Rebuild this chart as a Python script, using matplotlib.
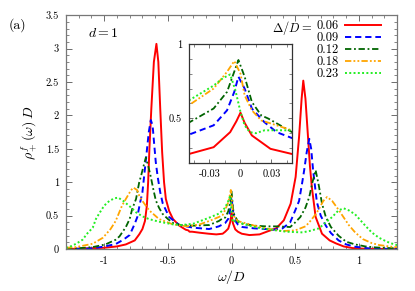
import numpy as np
import matplotlib
matplotlib.use('Agg')
import matplotlib.pyplot as plt
from matplotlib.ticker import MultipleLocator

plt.rcParams['font.family'] = 'cmr10'
plt.rcParams['mathtext.fontset'] = 'cm'
plt.rcParams['axes.unicode_minus'] = False
plt.rcParams['axes.formatter.use_mathtext'] = False

# --- data: omega/D and rho_+^f(omega) D ---
w_006 = [-1.30, -1.00, -0.90, -0.83, -0.76, -0.725, -0.70, -0.68, -0.665, -0.655, -0.645, -0.63,
         -0.61, -0.59, -0.575, -0.56, -0.545, -0.53, -0.516, -0.49, -0.46, -0.41, -0.36, -0.34,
         -0.33, -0.31, -0.25, -0.18, -0.12, -0.07, -0.05, -0.026, -0.01, -0.004, 0.0, 0.004,
         0.011, 0.029, 0.05, 0.08, 0.14, 0.22, 0.29, 0.35, 0.41, 0.464, 0.503, 0.53, 0.55,
         0.563, 0.58, 0.60, 0.615, 0.63, 0.66, 0.71, 0.77, 0.82, 0.88, 0.95, 1.05, 1.30]
r_006 = [0.0, 0.02, 0.04, 0.07, 0.13, 0.22, 0.30, 0.42, 0.65, 1.00, 1.50, 2.10,
         2.80, 3.07, 2.80, 2.10, 1.45, 1.00, 0.75, 0.57, 0.45, 0.35, 0.29, 0.28,
         0.26, 0.26, 0.245, 0.23, 0.22, 0.23, 0.26, 0.306, 0.407, 0.48, 0.538, 0.47,
         0.385, 0.295, 0.26, 0.23, 0.21, 0.22, 0.27, 0.31, 0.43, 0.68, 1.08, 1.68, 2.25,
         2.52, 2.25, 1.68, 1.25, 0.93, 0.48, 0.23, 0.13, 0.085, 0.04, 0.015, 0.005, 0.0]

w_009 = [-1.30, -1.10, -1.01, -0.91, -0.85, -0.80, -0.76, -0.74, -0.72, -0.70, -0.673, -0.65,
         -0.634, -0.62, -0.608, -0.595, -0.58, -0.56, -0.54, -0.49, -0.41, -0.30, -0.176, -0.10,
         -0.07, -0.05, -0.026, -0.013, -0.006, -0.002, 0.004, 0.011, 0.023, 0.035, 0.05, 0.085,
         0.18, 0.27, 0.33, 0.40, 0.46, 0.50, 0.53, 0.555, 0.57, 0.59, 0.61, 0.625, 0.64, 0.67,
         0.70, 0.74, 0.78, 0.84, 0.90, 0.97, 1.08, 1.30]
r_009 = [0.0, 0.01, 0.035, 0.075, 0.14, 0.21, 0.38, 0.48, 0.68, 0.85, 1.33, 1.75,
         1.93, 1.85, 1.58, 1.30, 1.08, 0.85, 0.68, 0.48, 0.36, 0.32, 0.30, 0.34,
         0.37, 0.39, 0.453, 0.554, 0.678, 0.78, 0.70, 0.566, 0.475, 0.407, 0.367, 0.33,
         0.31, 0.30, 0.29, 0.31, 0.40, 0.58, 0.72, 1.00, 1.18, 1.45, 1.65, 1.50, 1.18, 0.70,
         0.50, 0.35, 0.24, 0.13, 0.07, 0.035, 0.01, 0.0]

w_012 = [-1.30, -1.22, -1.09, -0.99, -0.91, -0.88, -0.83, -0.80, -0.78, -0.75, -0.725, -0.71,
         -0.69, -0.673, -0.655, -0.634, -0.615, -0.595, -0.57, -0.543, -0.50, -0.46, -0.40, -0.30,
         -0.176, -0.10, -0.07, -0.05, -0.026, -0.013, -0.002, 0.004, 0.011, 0.02, 0.027, 0.05,
         0.085, 0.18, 0.27, 0.36, 0.46, 0.50, 0.54, 0.58, 0.61, 0.635, 0.66, 0.685, 0.71, 0.74,
         0.78, 0.84, 0.90, 0.97, 1.05, 1.13, 1.30]
r_012 = [0.0, 0.01, 0.03, 0.07, 0.14, 0.19, 0.33, 0.45, 0.60, 0.75, 1.00, 1.10,
         1.25, 1.37, 1.25, 1.08, 0.90, 0.73, 0.62, 0.53, 0.45, 0.39, 0.36, 0.35,
         0.36, 0.42, 0.46, 0.471, 0.566, 0.678, 0.892, 0.78, 0.61, 0.52, 0.498, 0.407,
         0.38, 0.35, 0.34, 0.34, 0.33, 0.40, 0.48, 0.62, 0.78, 1.00, 1.18, 0.95, 0.68, 0.48,
         0.33, 0.20, 0.11, 0.07, 0.04, 0.025, 0.01]

w_018 = [-1.30, -1.22, -1.09, -1.01, -0.95, -0.91, -0.86, -0.83, -0.79, -0.77, -0.74, -0.725,
         -0.70, -0.647, -0.57, -0.46, -0.35, -0.25, -0.176, -0.10, -0.07, -0.05, -0.026, -0.013,
         -0.006, 0.0, 0.004, 0.011, 0.02, 0.035, 0.05, 0.085, 0.18, 0.27, 0.40, 0.50, 0.58,
         0.61, 0.66, 0.686, 0.72, 0.75, 0.79, 0.843, 0.92, 0.97, 1.03, 1.10, 1.16, 1.28, 1.30]
r_018 = [0.02, 0.03, 0.08, 0.17, 0.30, 0.42, 0.65, 0.75, 0.88, 0.92, 0.88, 0.80,
         0.72, 0.58, 0.45, 0.37, 0.34, 0.37, 0.42, 0.48, 0.51, 0.588, 0.70, 0.813,
         0.885, 0.80, 0.655, 0.554, 0.486, 0.453, 0.419, 0.40, 0.35, 0.31, 0.27, 0.28, 0.34,
         0.40, 0.52, 0.60, 0.72, 0.78, 0.72, 0.58, 0.36, 0.25, 0.15, 0.09, 0.06, 0.03, 0.03]

w_023 = [-1.30, -1.27, -1.22, -1.17, -1.13, -1.09, -1.065, -1.04, -1.00, -0.96, -0.92, -0.89,
         -0.85, -0.80, -0.75, -0.70, -0.65, -0.57, -0.46, -0.39, -0.30, -0.176, -0.10, -0.07,
         -0.05, -0.026, -0.017, -0.01, -0.005, 0.0, 0.004, 0.009, 0.015, 0.023, 0.035, 0.05,
         0.085, 0.18, 0.27, 0.43, 0.556, 0.61, 0.686, 0.74, 0.79, 0.84, 0.88, 0.92, 0.97,
         1.05, 1.10, 1.157, 1.22, 1.27, 1.30]
r_023 = [0.02, 0.035, 0.08, 0.14, 0.24, 0.32, 0.45, 0.53, 0.65, 0.72, 0.76, 0.77,
         0.72, 0.64, 0.55, 0.49, 0.45, 0.41, 0.37, 0.36, 0.38, 0.47, 0.53, 0.58,
         0.62, 0.72, 0.77, 0.795, 0.69, 0.543, 0.453, 0.407, 0.40, 0.419, 0.42, 0.419,
         0.38, 0.33, 0.30, 0.26, 0.25, 0.27, 0.31, 0.40, 0.48, 0.58, 0.61, 0.58, 0.52,
         0.35, 0.25, 0.17, 0.11, 0.075, 0.06]

labels = ['0.06', '0.09', '0.12', '0.18', '0.23']

series = [
    (w_006, r_006, '#ff0000', '-', 1.4),
    (w_009, r_009, '#0000ff', (0, (3.2, 2.0)), 1.4),
    (w_012, r_012, '#006400', (0, (3.5, 1.5, 1.0, 1.5)), 1.3),
    (w_018, r_018, '#ffa500', (0, (3.5, 1.2, 1.0, 1.2, 1.0, 1.2)), 1.3),
    (w_023, r_023, '#22ee22', (0, (1.0, 1.2)), 1.4),
]

fig = plt.figure(figsize=(4.15, 2.91), dpi=100)
ax = fig.add_axes([0.159, 0.144, 0.798, 0.804])

for (w, r, col, ls, lw), lab in zip(series, labels):
    ax.plot(w, r, color=col, linestyle=ls, linewidth=lw, label=lab)

ax.set_xlim(-1.3, 1.3)
ax.set_ylim(0, 3.5)
ax.xaxis.set_minor_locator(MultipleLocator(0.1))
ax.yaxis.set_minor_locator(MultipleLocator(0.1))
ax.set_xticks([-1, -0.5, 0, 0.5, 1])
ax.set_xticklabels(['-1', '-0.5', '0', '0.5', '1'])
ax.set_yticks([0, 0.5, 1, 1.5, 2, 2.5, 3, 3.5])
ax.set_yticklabels(['0', '0.5', '1', '1.5', '2', '2.5', '3', '3.5'])
ax.tick_params(which='both', direction='in', top=True, right=True, labelsize=7.5,
               color='#555555', pad=5)
ax.tick_params(which='major', length=4, width=0.6)
ax.tick_params(which='minor', length=2, width=0.5)
for sp in ax.spines.values():
    sp.set_color('#777777')
    sp.set_linewidth(0.9)

ax.set_xlabel(r'$\omega/D$', fontsize=10, labelpad=2)
ax.set_ylabel(r'$\rho^f_+(\omega)\;D$', fontsize=10, labelpad=4)
ax.text(0.066, 0.92, r'$d = 1$', transform=ax.transAxes, fontsize=10, va='center')
fig.text(0.02, 0.915, '(a)', fontsize=10, va='center')

leg = ax.legend(loc='upper right', bbox_to_anchor=(0.952, 0.98), markerfirst=False,
                frameon=False, fontsize=9, handlelength=2.9, handletextpad=0.5,
                labelspacing=0.0, borderaxespad=0, borderpad=0)
# "Delta/D =" prefix in front of the first legend entry
ax.annotate(r'$\Delta/D =$', xy=(0, 0), xycoords=leg.get_texts()[0],
            xytext=(-3, 0), textcoords='offset points',
            ha='right', va='baseline', fontsize=9)

# inset zoom on the central peak
axi = fig.add_axes([0.455, 0.44, 0.249, 0.409])
for w, r, col, ls, lw in series:
    axi.plot(w, r, color=col, linestyle=ls, linewidth=lw)
axi.set_xlim(-0.05, 0.05)
axi.set_ylim(0.2, 1.0)
axi.set_xticks([-0.03, 0, 0.03])
axi.set_xticklabels(['-0.03', '0', '0.03'])
axi.xaxis.set_minor_locator(MultipleLocator(0.015))
axi.set_yticks([0.5, 1.0])
axi.set_yticklabels(['0.5', '1'])
axi.yaxis.set_minor_locator(MultipleLocator(0.1))
axi.tick_params(which='both', direction='in', top=True, right=True, labelsize=7.5,
                color='#555555', pad=5)
axi.tick_params(which='major', length=3, width=0.6)
axi.tick_params(which='minor', length=2, width=0.5)
for sp in axi.spines.values():
    sp.set_color('#333333')
    sp.set_linewidth(0.9)

# draw once so the legend text positions exist for the prefix annotation
fig.canvas.draw()
fig.savefig('out.png', dpi=100)
